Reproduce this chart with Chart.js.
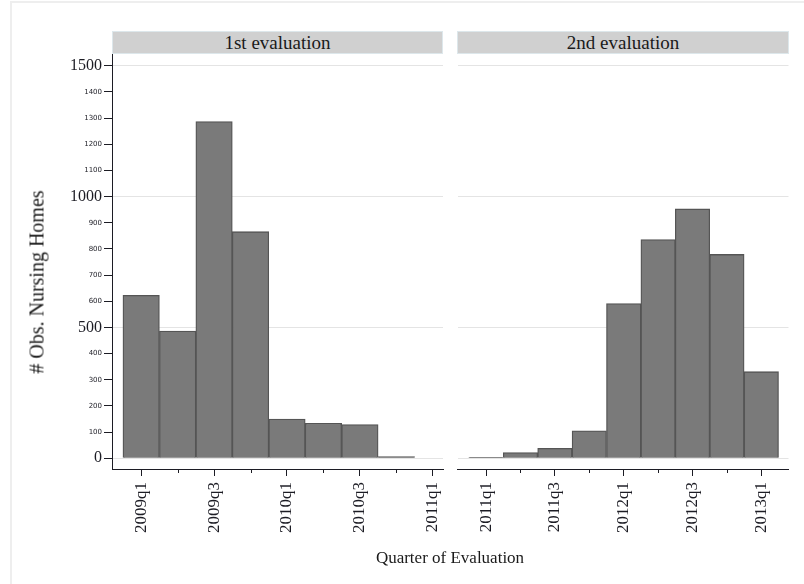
<!DOCTYPE html>
<html>
<head>
<meta charset="utf-8">
<title>Quarter of Evaluation</title>
<script src="https://cdn.jsdelivr.net/npm/chart.js@4.4.1/dist/chart.umd.min.js"></script>
<style>
  html, body { margin: 0; padding: 0; background: #ffffff; }
  #page {
    position: relative; width: 804px; height: 584px; overflow: hidden;
    background: #ffffff; color: #1a1a1a;
    font-family: "Liberation Serif", "Times New Roman", serif;
  }
  #frame {
    position: absolute; left: 10px; top: 1px; width: 800px; height: 600px;
    border: 2px solid #eeeeee; box-sizing: border-box;
  }
  canvas { position: absolute; top: 0; }
  .strip {
    position: absolute; top: 31px; height: 23px;
    background: #d0d0d0; border: 1px solid #dde7eb; box-sizing: border-box;
    text-align: center; font-size: 19px; line-height: 21px; color: #1a1a1a;
  }
  #ytitle {
    position: absolute; left: 37px; top: 282px; white-space: nowrap;
    transform: translate(-50%, -50%) rotate(-90deg);
    font-size: 20px;
  }
  #xtitle {
    position: absolute; left: 450px; top: 558px; white-space: nowrap;
    transform: translate(-50%, -50%);
    font-size: 17px;
  }
</style>
</head>
<body>
<div id="page">
  <div id="frame"></div>
  <canvas id="leftPanel" width="450" height="584" style="left:0px"></canvas>
  <canvas id="rightPanel" width="354" height="584" style="left:450px"></canvas>
  <div class="strip" style="left:112px; width:331px;">1st evaluation</div>
  <div class="strip" style="left:457px; width:332px;">2nd evaluation</div>
  <div id="ytitle"># Obs. Nursing Homes</div>
  <div id="xtitle">Quarter of Evaluation</div>
</div>
<script>
// ---- data ----
const firstEvalQuarters = ['2009q1', '2009q2', '2009q3', '2009q4', '2010q1', '2010q2', '2010q3', '2010q4'];
const firstEvalCounts   = [623, 486, 1287, 866, 150, 134, 129, 6];

const secondEvalQuarters = ['2011q1', '2011q2', '2011q3', '2011q4', '2012q1', '2012q2', '2012q3', '2012q4', '2013q1'];
const secondEvalCounts   = [4, 22, 38, 105, 591, 836, 953, 779, 331];

const firstEvalTickLabels  = ['2009q1', '2009q3', '2010q1', '2010q3', '2011q1'];
const secondEvalTickLabels = ['2011q1', '2011q3', '2012q1', '2012q3', '2013q1'];

const yTickValues  = [0, 100, 200, 300, 400, 500, 600, 700, 800, 900, 1000, 1100, 1200, 1300, 1400, 1500];
const yMajorValues = [0, 500, 1000, 1500];

// ---- helpers ----
const quarterIndex = q => { const [yr, n] = q.split('q'); return Number(yr) * 4 + Number(n) - 1; };
const quarterName  = i => Math.floor(i / 4) + 'q' + ((i % 4) + 1);

const SERIF = '"Liberation Serif", "Times New Roman", serif';
const INK = '#1c1c24';

// short ticks for the quarters that carry no label
const minorTicks = {
  id: 'minorTicks',
  afterDraw(chart) {
    const s = chart.scales.x;
    const labels = chart.options.plugins.minorTicks.labels;
    const ctx = chart.ctx;
    ctx.save();
    ctx.strokeStyle = INK;
    ctx.lineWidth = 1;
    s.ticks.forEach(t => {
      if (labels.includes(quarterName(t.value))) return;
      const px = Math.round(s.getPixelForValue(t.value)) + 0.5;
      ctx.beginPath();
      ctx.moveTo(px, s.top);
      ctx.lineTo(px, s.top + 4);
      ctx.stroke();
    });
    ctx.restore();
  }
};

function makePanel(canvasId, quarters, counts, tickLabels, cfg) {
  const first = quarterIndex(quarters[0]);
  const points = quarters.map((q, i) => ({ x: quarterIndex(q), y: counts[i] }));
  return new Chart(document.getElementById(canvasId), {
    type: 'bar',
    data: {
      datasets: [{
        data: points,
        backgroundColor: '#7a7a7a',
        borderColor: '#555555',
        borderWidth: 1.3,
        barPercentage: 1,
        categoryPercentage: 1
      }]
    },
    plugins: [minorTicks],
    options: {
      responsive: false,
      animation: false,
      devicePixelRatio: 1,
      layout: { padding: cfg.padding },
      plugins: {
        legend: { display: false },
        tooltip: { enabled: false },
        minorTicks: { labels: tickLabels }
      },
      scales: {
        x: {
          type: 'linear',
          offset: false,
          min: first + cfg.xFrom,
          max: first + cfg.xTo,
          afterBuildTicks: s => {
            const t = [];
            for (let v = Math.ceil(s.min); v <= Math.floor(s.max); v++) t.push({ value: v });
            s.ticks = t;
          },
          afterFit: s => {
            s.height = 115;
            // the rotated labels fit inside the panel; no extra side room needed
            s.paddingLeft = 0;
            s.paddingRight = 0;
          },
          border: { display: true, color: INK, width: 1 },
          grid: {
            offset: false,
            drawOnChartArea: false,
            drawTicks: true,
            tickLength: 7,
            tickWidth: 1,
            tickColor: c => (c.tick && tickLabels.includes(quarterName(c.tick.value))) ? INK : 'transparent'
          },
          ticks: {
            autoSkip: false,
            minRotation: 90,
            maxRotation: 90,
            padding: 6,
            color: INK,
            font: { family: SERIF, size: 17 },
            callback: v => tickLabels.includes(quarterName(v)) ? quarterName(v) : ''
          }
        },
        y: {
          min: -41,
          max: 1545,
          afterBuildTicks: s => { s.ticks = yTickValues.map(v => ({ value: v })); },
          afterFit: s => { s.width = cfg.yWidth; },
          border: { display: cfg.showY, color: INK, width: 1 },
          grid: {
            color: c => (c.tick && yMajorValues.includes(c.tick.value)) ? '#e4e4e4' : 'transparent',
            lineWidth: 1,
            drawTicks: cfg.showY,
            tickLength: 8,
            tickColor: INK,
            tickWidth: 1
          },
          ticks: {
            display: cfg.showY,
            padding: 2,
            color: INK,
            font: c => (c.tick && yMajorValues.includes(c.tick.value))
              ? { family: SERIF, size: 16 }
              : { family: '"DejaVu Sans", Verdana, sans-serif', size: 7 },
            callback: v => String(v)
          }
        }
      }
    }
  });
}

makePanel('leftPanel', firstEvalQuarters, firstEvalCounts, firstEvalTickLabels, {
  padding: { left: 0, right: 7, top: 54, bottom: 0 },
  xFrom: -0.80, xTo: 8.28, yWidth: 112, showY: true
});

makePanel('rightPanel', secondEvalQuarters, secondEvalCounts, secondEvalTickLabels, {
  padding: { left: 7.5, right: 15.5, top: 54, bottom: 0 },
  xFrom: -0.83, xTo: 8.79, yWidth: 0, showY: false
});
</script>
</body>
</html>
